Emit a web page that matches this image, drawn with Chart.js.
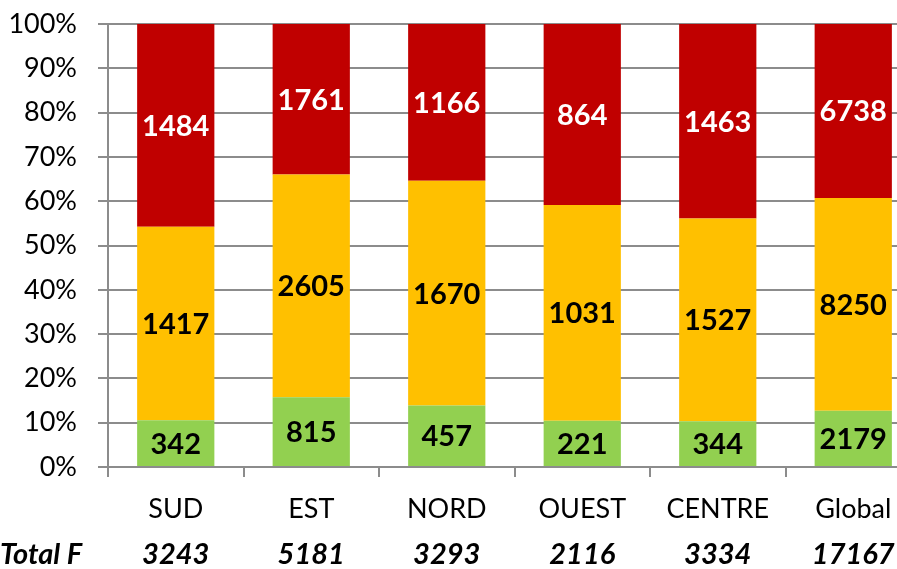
<!DOCTYPE html>
<html>
<head>
<meta charset="utf-8">
<script src="https://cdn.jsdelivr.net/npm/chart.js@4.4.1/dist/chart.umd.min.js"></script>
<style>
    html, body { margin: 0; padding: 0; overflow: hidden; background: #fff; }
    #wrap { width: 930px; height: 569px; }
</style>
</head>
<body>
<div id="wrap"><canvas id="chart"></canvas></div>
<script>
// Data
const categories = ['SUD', 'EST', 'NORD', 'OUEST', 'CENTRE', 'Global'];
const greenCounts = [342, 815, 457, 221, 344, 2179];
const yellowCounts = [1417, 2605, 1670, 1031, 1527, 8250];
const redCounts = [1484, 1761, 1166, 864, 1463, 6738];
const totals = [3243, 5181, 3293, 2116, 3334, 17167];
const yTicks = [0, 10, 20, 30, 40, 50, 60, 70, 80, 90, 100];

const FONT = 'Lato, "Open Sans", sans-serif';
const GRID = '#8c8c8c';

// share of each count in its column (100% stacked)
const toPct = counts => counts.map((v, i) => v / totals[i] * 100);

// Labels centred inside each segment
const segmentLabels = {
    id: 'segmentLabels',
    afterDatasetsDraw(chart) {
        const ctx = chart.ctx;
        ctx.save();
        ctx.font = 'bold 29px ' + FONT;
        ctx.textAlign = 'center';
        ctx.textBaseline = 'middle';
        chart.data.datasets.forEach((ds, di) => {
            const meta = chart.getDatasetMeta(di);
            meta.data.forEach((bar, i) => {
                const { x, y, base } = bar.getProps(['x', 'y', 'base'], true);
                ctx.fillStyle = ds.labelColor;
                ctx.fillText(String(ds.counts[i]), x, (y + base) / 2 + 1);
            });
        });
        ctx.restore();
    }
};

// "Total F" row under the category labels
const totalRow = {
    id: 'totalRow',
    afterDraw(chart) {
        const ctx = chart.ctx;
        const xScale = chart.scales.x;
        ctx.save();
        ctx.font = 'italic bold 29px ' + FONT;
        ctx.fillStyle = '#000';
        ctx.textBaseline = 'middle';
        ctx.textAlign = 'left';
        ctx.fillText('Total F', 0, 555);
        ctx.textAlign = 'center';
        totals.forEach((t, i) => {
            ctx.fillText(String(t), xScale.getPixelForValue(i), 555);
        });
        ctx.restore();
    }
};

new Chart(document.getElementById('chart'), {
    type: 'bar',
    data: {
        labels: categories,
        datasets: [
            { label: 'green', data: toPct(greenCounts), counts: greenCounts, backgroundColor: '#92D050', labelColor: '#000' },
            { label: 'yellow', data: toPct(yellowCounts), counts: yellowCounts, backgroundColor: '#FFC000', labelColor: '#000' },
            { label: 'red', data: toPct(redCounts), counts: redCounts, backgroundColor: '#C00000', labelColor: '#fff' }
        ]
    },
    options: {
        responsive: true,
        maintainAspectRatio: false,
        animation: false,
        layout: { padding: { top: 24, right: 9, bottom: 0, left: 0 } },
        datasets: {
            bar: { categoryPercentage: 1, barPercentage: 0.57, borderWidth: 0 }
        },
        plugins: {
            legend: { display: false },
            tooltip: { enabled: false }
        },
        scales: {
            x: {
                stacked: true,
                grid: { offset: true, drawOnChartArea: false, drawTicks: true, tickLength: 10, color: GRID, lineWidth: 2 },
                border: { color: GRID, width: 2 },
                ticks: { color: '#000', font: { family: FONT, size: 27 }, padding: 16 },
                afterFit(scale) { scale.height = 102; scale.paddingLeft = 0; scale.paddingRight = 0; }
            },
            y: {
                stacked: true,
                min: 0,
                max: 100,
                afterBuildTicks(scale) { scale.ticks = yTicks.map(v => ({ value: v })); },
                grid: { color: GRID, lineWidth: 2, tickLength: 10 },
                border: { color: GRID, width: 2 },
                ticks: {
                    color: '#000',
                    font: { family: FONT, size: 27 },
                    padding: 21,
                    callback: v => v + '%'
                },
                afterFit(scale) { scale.width = 108; scale.paddingTop = 0; scale.paddingBottom = 0; }
            }
        }
    },
    plugins: [segmentLabels, totalRow]
});
</script>
</body>
</html>
